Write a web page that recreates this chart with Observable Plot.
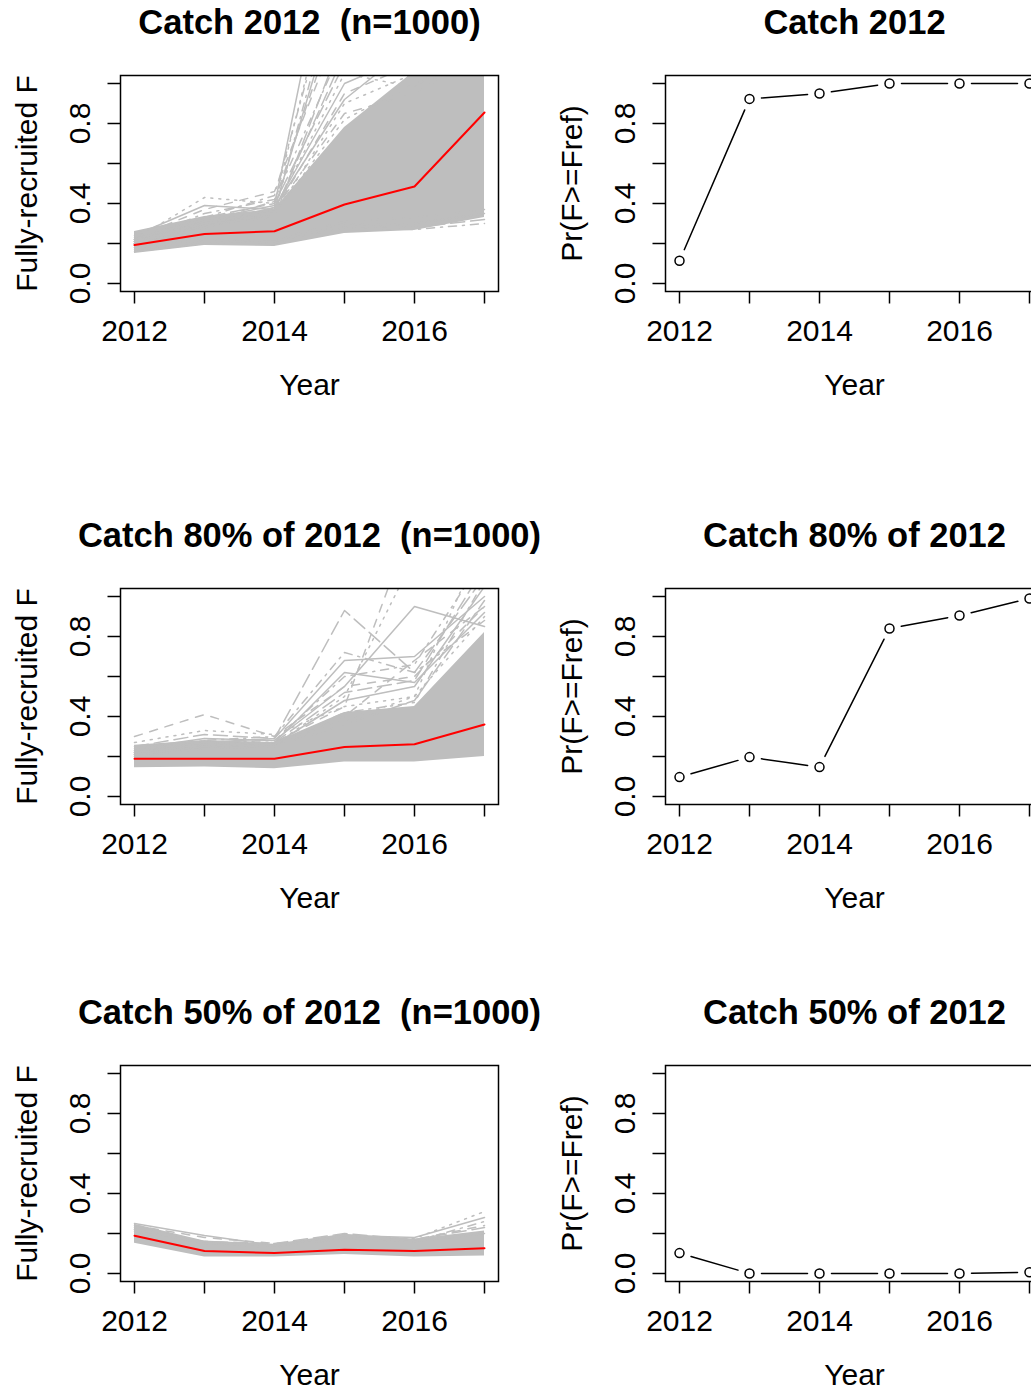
<!DOCTYPE html>
<html><head><meta charset="utf-8">
<script src="https://cdn.jsdelivr.net/npm/d3@7"></script>
<script src="https://cdn.jsdelivr.net/npm/@observablehq/plot@0.6"></script>
<style>
html,body{margin:0;padding:0;background:#fff;overflow:hidden;width:1031px;height:1391px}
#root{position:relative;width:1031px;height:1391px;overflow:hidden;background:#fff}
.panel{position:absolute;width:520px;height:401px}
.panel svg{max-width:none !important}
</style></head><body><div id="root"></div>
<script>
// ---------------- data ----------------
const years = [2012, 2013, 2014, 2015, 2016, 2017];
const labeledYears = [2012, 2014, 2016];
const yTicks = [0, 0.2, 0.4, 0.6, 0.8, 1.0];
const yLabeled = [0, 0.4, 0.8];

const titlesLeft = ["Catch 2012  (n=1000)", "Catch 80% of 2012  (n=1000)", "Catch 50% of 2012  (n=1000)"];
const titlesRight = ["Catch 2012", "Catch 80% of 2012", "Catch 50% of 2012"];
const yLabelLeft = "Fully-recruited F";
const yLabelRight = "Pr(F>=Fref)";
const xLabel = "Year";

// median F trajectories (red)
const median1 = [0.193, 0.248, 0.261, 0.395, 0.485, 0.855];
const median2 = [0.189, 0.189, 0.189, 0.247, 0.261, 0.360];
const median3 = [0.189, 0.112, 0.102, 0.119, 0.112, 0.126];

// dense band of simulated trajectories (lower / upper edge)
const bandLo1 = [0.150, 0.190, 0.185, 0.250, 0.265, 0.330];
const bandHi1 = [0.260, 0.335, 0.370, 0.780, 1.060, 1.200];
const bandLo2 = [0.144, 0.147, 0.139, 0.172, 0.172, 0.200];
const bandHi2 = [0.256, 0.280, 0.270, 0.420, 0.450, 0.820];
const bandLo3 = [0.151, 0.082, 0.082, 0.095, 0.082, 0.087];
const bandHi3 = [0.246, 0.162, 0.146, 0.196, 0.171, 0.212];

// individual outlying trajectories
const traj1 = [
  [0.24, 0.39, 0.37, 1.55, 1.70, 1.90],
  [0.23, 0.37, 0.46, 1.35, 1.50, 1.60],
  [0.22, 0.43, 0.40, 1.80, 1.90, 2.00],
  [0.21, 0.35, 0.42, 1.20, 1.40, 1.50],
  [0.22, 0.33, 0.40, 1.10, 1.30, 1.40],
  [0.20, 0.30, 0.38, 1.00, 1.15, 1.30],
  [0.21, 0.31, 0.36, 0.95, 1.10, 1.20],
  [0.20, 0.29, 0.34, 0.90, 1.05, 1.20],
  [0.19, 0.28, 0.35, 1.65, 1.45, 1.70],
  [0.21, 0.30, 0.33, 1.25, 1.10, 1.30],
  [0.22, 0.32, 0.39, 2.10, 1.80, 2.00],
  [0.20, 0.31, 0.41, 1.45, 1.30, 1.50],
  [0.21, 0.29, 0.37, 1.05, 0.98, 1.25],
  [0.22, 0.33, 0.44, 1.70, 1.60, 1.80],
  [0.20, 0.30, 0.36, 1.15, 1.25, 1.40],
  [0.19, 0.28, 0.38, 0.92, 1.20, 1.30],
  [0.21, 0.30, 0.37, 0.85, 0.95, 1.15],
  [0.20, 0.29, 0.35, 0.82, 1.00, 1.10],
  [0.17, 0.21, 0.21, 0.28, 0.27, 0.30],
  [0.18, 0.22, 0.20, 0.30, 0.28, 0.32],
  [0.16, 0.20, 0.22, 0.29, 0.30, 0.35],
  [0.18, 0.23, 0.22, 0.31, 0.33, 0.37]
];
const traj2 = [
  [0.24, 0.29, 0.28, 0.55, 0.95, 0.85],
  [0.30, 0.41, 0.30, 0.55, 0.60, 0.95],
  [0.27, 0.33, 0.31, 0.45, 0.50, 0.90],
  [0.23, 0.28, 0.30, 0.72, 0.62, 0.88],
  [0.25, 0.31, 0.29, 0.93, 0.62, 1.10],
  [0.22, 0.27, 0.29, 0.68, 0.70, 1.00],
  [0.22, 0.26, 0.27, 0.45, 1.40, 1.50],
  [0.21, 0.25, 0.26, 0.50, 1.20, 1.30],
  [0.23, 0.27, 0.28, 0.60, 0.66, 1.20],
  [0.22, 0.26, 0.27, 0.52, 0.58, 1.15],
  [0.21, 0.25, 0.26, 0.48, 0.55, 1.05],
  [0.20, 0.24, 0.25, 0.40, 0.68, 0.95],
  [0.22, 0.26, 0.27, 0.38, 0.50, 1.30],
  [0.21, 0.25, 0.26, 0.42, 0.47, 1.08],
  [0.20, 0.24, 0.25, 0.36, 0.48, 0.98],
  [0.21, 0.25, 0.27, 0.62, 0.57, 0.92]
];
const traj3 = [
  [0.25, 0.19, 0.14, 0.17, 0.16, 0.20],
  [0.24, 0.18, 0.15, 0.18, 0.17, 0.24],
  [0.23, 0.16, 0.14, 0.19, 0.175, 0.31],
  [0.22, 0.15, 0.13, 0.18, 0.16, 0.26],
  [0.21, 0.16, 0.15, 0.20, 0.17, 0.23],
  [0.22, 0.15, 0.14, 0.19, 0.18, 0.28]
];

// probability F >= Fref
const prob1 = [0.114, 0.923, 0.950, 1.000, 1.000, 1.000];
const prob2 = [0.097, 0.197, 0.147, 0.840, 0.905, 0.990];
const prob3 = [0.102, 0.000, 0.000, 0.000, 0.000, 0.006];

// ---------------- drawing ----------------
const FONT = "'Liberation Sans', Arial, Helvetica, sans-serif";
const GREY = "#BEBEBE";
const DASH = [null, "8,8", "2,6", "2,6,8,6", "14,6"];
const rowTops = [0, 513, 990];

const rows = (xs, vs) => xs.map((x, i) => ({year: x, v: vs[i]}));

function baseMarks(title, ylab) {
  return [
    Plot.frame({stroke: "black", strokeWidth: 1.5}),
    Plot.axisX({ticks: years, tickSize: 12.5, tickFormat: () => "", label: null, strokeWidth: 1.5}),
    Plot.text(labeledYears, {x: d => d, frameAnchor: "bottom", dy: 40, text: d => String(d), fontSize: 30, lineAnchor: "middle", textAnchor: "middle", fill: "black"}),
    Plot.axisY({ticks: yTicks, tickSize: 12.5, tickFormat: () => "", label: null, strokeWidth: 1.5}),
    Plot.text(yLabeled, {y: d => d, frameAnchor: "left", dx: -40.5, rotate: -90, text: d => d.toFixed(1), fontSize: 30, lineAnchor: "middle", textAnchor: "middle", fill: "black"}),
    Plot.text([ylab], {frameAnchor: "left", dx: -93, rotate: -90, fontSize: 30, lineAnchor: "middle", textAnchor: "middle", fill: "black"}),
    Plot.text([xLabel], {frameAnchor: "bottom", dy: 94, fontSize: 30, lineAnchor: "middle", textAnchor: "middle", fill: "black"}),
    Plot.text([title], {frameAnchor: "top", dy: -53, fontSize: 34.5, fontWeight: "bold", lineAnchor: "middle", textAnchor: "middle", fill: "black"})
  ];
}

function common(marks) {
  return Plot.plot({
    width: 520, height: 401,
    marginLeft: 120, marginRight: 22, marginTop: 75, marginBottom: 110,
    x: {domain: [2011.8, 2017.2]},
    y: {domain: [-0.04, 1.04]},
    style: {fontFamily: FONT, background: "white", overflow: "visible", color: "black", maxWidth: "none"},
    marks
  });
}

function leftPanel(title, lo, hi, trajs, med) {
  const band = years.map((y, i) => ({year: y, lo: lo[i], hi: hi[i]}));
  const marks = [
    Plot.areaY(band, {x: "year", y1: "lo", y2: "hi", fill: GREY, clip: true}),
    ...trajs.map((t, i) => Plot.line(rows(years, t), {x: "year", y: "v", stroke: GREY, strokeWidth: 1.5, strokeDasharray: DASH[i % 5], clip: true})),
    Plot.line(rows(years, med), {x: "year", y: "v", stroke: "#FF0000", strokeWidth: 2}),
    ...baseMarks(title, yLabelLeft)
  ];
  return common(marks);
}

function rightPanel(title, probs) {
  const pts = rows(years, probs);
  const segs = pts.slice(1).map((p, i) => ({x1: pts[i].year, y1: pts[i].v, x2: p.year, y2: p.v}));
  const marks = [
    Plot.arrow(segs, {x1: "x1", y1: "y1", x2: "x2", y2: "y2", insetStart: 12, insetEnd: 12, headLength: 0, stroke: "black", strokeWidth: 1.5}),
    Plot.dot(pts, {x: "year", y: "v", r: 4.5, stroke: "black", strokeWidth: 1.5, fill: "none"}),
    ...baseMarks(title, yLabelRight)
  ];
  return common(marks);
}

const root = document.getElementById("root");
function place(node, left, top) {
  const d = document.createElement("div");
  d.className = "panel";
  d.style.left = left + "px";
  d.style.top = top + "px";
  d.appendChild(node);
  root.appendChild(d);
}

const L = [[bandLo1, bandHi1, traj1, median1], [bandLo2, bandHi2, traj2, median2], [bandLo3, bandHi3, traj3, median3]];
const P = [prob1, prob2, prob3];
for (let r = 0; r < 3; r++) {
  place(leftPanel(titlesLeft[r], ...L[r]), 0, rowTops[r]);
  place(rightPanel(titlesRight[r], P[r]), 545, rowTops[r]);
}
</script></body></html>
